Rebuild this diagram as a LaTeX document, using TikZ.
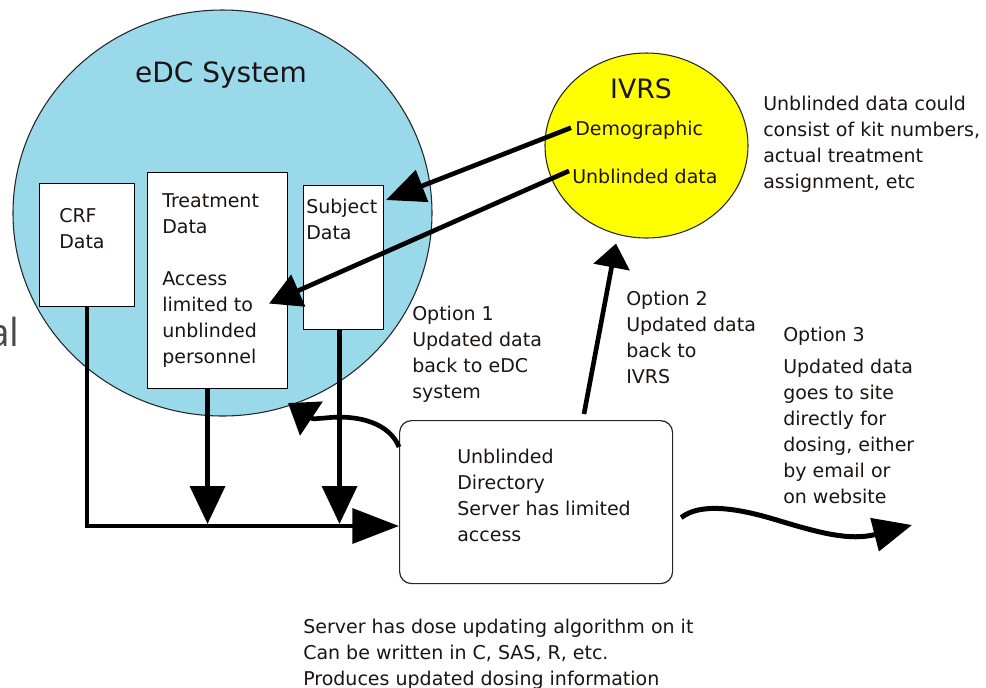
\documentclass[tikz,border=0pt]{standalone}
\usepackage{fontspec}
\setmainfont{DejaVu Sans}
\newfontfamily\slidefont{Open Sans}
\usetikzlibrary{arrows.meta,shapes.geometric,calc}
\definecolor{edcblue}{RGB}{153,217,234}
\definecolor{ivrsyellow}{RGB}{255,255,0}
\definecolor{ink}{RGB}{28,20,20}
\definecolor{slidegray}{RGB}{72,72,72}

\begin{document}
\begin{tikzpicture}[x=0.75pt,y=-0.75pt,
  bodytext/.style={font=\fontsize{14.25}{19.5}\selectfont, text=ink, align=left,
    inner sep=0pt, anchor=north west},
  databox/.style={draw=black, line width=0.8pt, fill=white, rectangle,
    inner sep=0pt, anchor=north west},
  system/.style={ellipse, draw=black!85, line width=0.8pt, inner sep=0pt},
  thickline/.style={line width=3.5pt, draw=black},
  headsz/.style 2 args={-{Triangle[length=#1,width=#2]}},
]
\useasboundingbox (0,0) rectangle (986,687);

% the two systems
\node[system, fill=edcblue, minimum width=314.25pt, minimum height=304.5pt] (edc) at (222.5,213) {};
\node[system, fill=ivrsyellow, minimum width=152.25pt, minimum height=138.75pt] (ivrs) at (646.5,145.5) {};

\node[font=\fontsize{21}{25}\selectfont, text=ink, anchor=base, inner sep=0pt] (edctitle) at (221,82) {eDC System};
\node[font=\fontsize{20}{24}\selectfont, text=ink, anchor=base, inner sep=0pt] (ivrstitle) at (641,98) {IVRS};

% fragment of the slide title at the left border
\node[font=\slidefont\fontsize{29}{33}\selectfont, text=slidegray, anchor=base east, inner sep=0pt] (frag) at (20,346) {al};

% data boxes inside the eDC system
\node[databox, minimum width=71.25pt, minimum height=92.25pt] (crf) at (39,183) {};
\node[databox, minimum width=105pt, minimum height=162pt] (trt) at (147,172) {};
\node[databox, minimum width=60pt, minimum height=108pt] (subj) at (303,185) {};

% server box
\node[draw=black!85, line width=0.9pt, rounded corners=9pt, fill=white, rectangle,
      minimum width=204.75pt, minimum height=122.25pt, anchor=north west, inner sep=0pt] (srv) at (399,420) {};

% texts
\node[bodytext] (crftxt) at (59,204) {\strut CRF\\Data};
\node[bodytext] (trttxt) at (162,189) {\strut Treatment\\Data\\[19.5pt]Access\\limited to\\unblinded\\personnel};
\node[bodytext] (subjtxt) at (306,195) {\strut Subject\\Data};
\node[bodytext, anchor=base west] (demo) at (575,135) {Demographic};
\node[bodytext, anchor=base west] (unbl) at (572,183) {Unblinded data};
\node[bodytext] (note) at (763,92) {\strut Unblinded data could\\consist of kit numbers,\\actual treatment\\assignment, etc};
\node[bodytext] (opt1) at (412,302) {\strut Option 1\\Updated data\\back to eDC\\system};
\node[bodytext] (opt2) at (626,287) {\strut Option 2\\Updated data\\back to\\IVRS};
\node[bodytext] (opt3) at (783,323) {\strut Option 3\\[4.5pt]Updated data\\goes to site\\directly for\\dosing, either\\by email or\\on website};
\node[bodytext] (srvtxt) at (457,445) {\strut Unblinded\\Directory\\Server has limited\\access};
\node[bodytext] (algo) at (303,615) {\strut Server has dose updating algorithm on it\\Can be written in C, SAS, R, etc.\\Produces updated dosing information};

% collecting bus from the eDC boxes to the server
\coordinate (bus) at (0,526);
\draw[thickline, headsz={35pt}{26pt}] (crf.south) |- (srv.west |- bus);
\draw[thickline, headsz={28.5pt}{26pt}] ($(trt.south)+(-10,0)$) -- ($(trt.south |- bus)+(-10,-2)$);
\draw[thickline, headsz={28.5pt}{26pt}] ($(subj.south)+(-4,0)$) -- ($(subj.south |- bus)+(-4,-2)$);

% IVRS feeds into the eDC boxes
\draw[thickline, headsz={29pt}{25pt}] ($(demo.west)+(-4,-2)$) -- ($(subj.north east)+(2,15)$);
\draw[thickline, headsz={24pt}{25.5pt}] ($(unbl.west)+(-3,-5)$) -- ($(trt.east)+(-19,23)$);

% option 2: server back to IVRS
\draw[thickline, headsz={18pt}{27pt}] ($(srv.north -| 584,0)+(0,-6)$) -- ($(ivrs.south)+(-30.5,5)$);

% option 1: server back to the eDC system
\draw[thickline, headsz={21pt}{30pt}] (srv.west |- 0,447) .. controls (390,424) and (360,414) .. (325,418)
  .. controls (312,419) .. ($(trt.south east)+(0,14)$);

% option 3: straight to the site
\coordinate (site) at (912,525);
\draw[thickline, line width=3.75pt, headsz={29pt}{25pt}] ($(srv.east)+(8,15.5)$) .. controls (700,503) and (735,507) .. (780,521)
  .. controls (820,533) and (850,541) .. (site);
\end{tikzpicture}
\end{document}
